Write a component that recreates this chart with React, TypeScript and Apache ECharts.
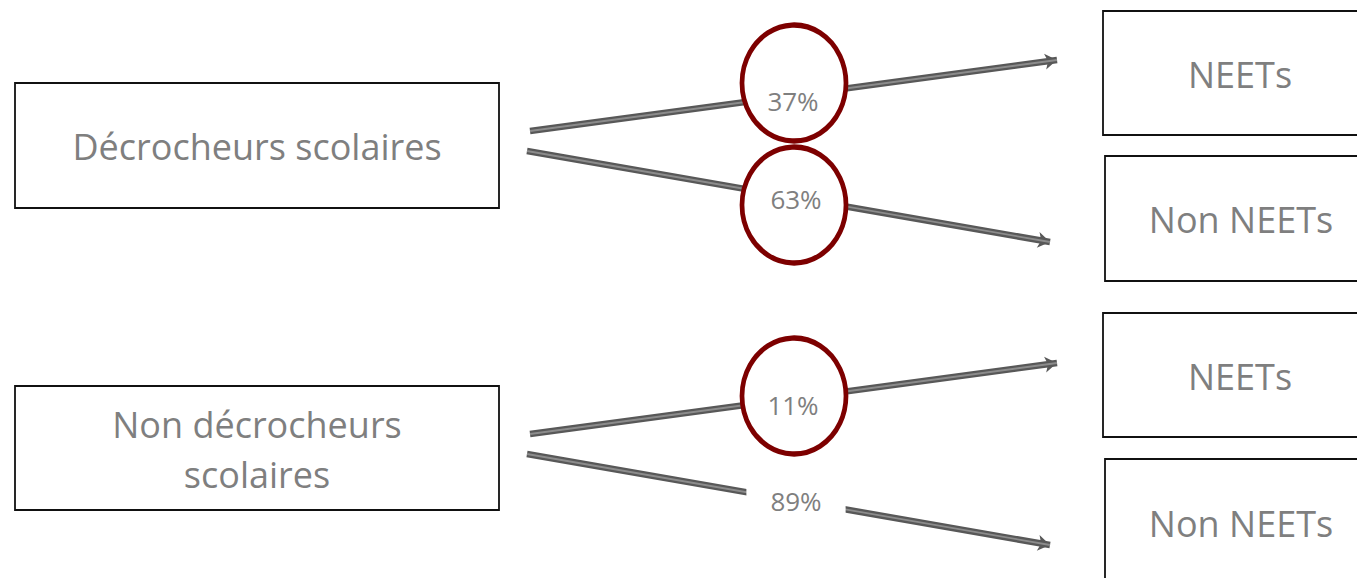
import React, { useEffect, useRef } from "react";
import * as echarts from "echarts";

// ---- data ----
const sources = ["Décrocheurs scolaires", "Non décrocheurs\nscolaires"];
const targets = ["NEETs", "Non NEETs"];
const sharesFromDropouts = [37, 63]; // % -> NEETs, Non NEETs
const sharesFromNonDropouts = [11, 89];
const circledFromDropouts = [true, true];
const circledFromNonDropouts = [true, false];

// ---- layout (pixel space of the 1357x578 canvas) ----
const W = 1357;
const H = 578;
const sourceBoxes = [
  [15, 83, 499, 208],
  [15, 386, 499, 510],
];
const targetBoxes = [
  [1103, 11, 1377, 135],
  [1105, 156, 1377, 281],
  [1103, 313, 1377, 437],
  [1105, 459, 1377, 586],
];
const arrowStarts = [
  [530, 131],
  [527, 151],
  [530, 434],
  [527, 454],
];
const arrowEnds = [
  [1057, 60],
  [1050, 242],
  [1057, 363],
  [1050, 545],
];
const ellipseCenters = [
  [794, 83],
  [794, 205],
  [794, 396],
  [794, 500],
];
const labelPos = [
  [793, 101],
  [796, 199],
  [793, 405],
  [796, 501],
];

const TEXT_GRAY = "#7f7f7f";
const FONT = "'Open Sans', sans-serif";

export default function App() {
  const ref = useRef<HTMLDivElement>(null);

  useEffect(() => {
    document.body.style.margin = "0";
    document.body.style.overflow = "hidden";
    if (!ref.current) return;
    const chart = echarts.init(ref.current, undefined, { renderer: "svg" });

    const boxLabels = [...sources, ...targets, ...targets];
    const boxes = [...sourceBoxes, ...targetBoxes];
    const shares = [...sharesFromDropouts, ...sharesFromNonDropouts];
    const circled = [...circledFromDropouts, ...circledFromNonDropouts];

    const linesData = arrowStarts.map((s, i) => ({ coords: [s, arrowEnds[i]] }));

    const option: any = {
      animation: false,
      backgroundColor: "#ffffff",
      grid: { left: 0, right: 0, top: 0, bottom: 0 },
      xAxis: { type: "value", min: 0, max: W, show: false },
      yAxis: { type: "value", min: 0, max: H, inverse: true, show: false },
      series: [
        {
          type: "custom",
          name: "boxes",
          coordinateSystem: "cartesian2d",
          clip: false,
          data: boxes,
          renderItem: (params: any, api: any) => {
            const p0 = api.coord([api.value(0), api.value(1)]);
            const p1 = api.coord([api.value(2), api.value(3)]);
            return {
              type: "group",
              children: [
                {
                  type: "rect",
                  shape: { x: p0[0], y: p0[1], width: p1[0] - p0[0], height: p1[1] - p0[1] },
                  style: { fill: "#ffffff", stroke: "#111111", lineWidth: 1.8 },
                },
                {
                  type: "text",
                  x: (p0[0] + p1[0]) / 2,
                  y: (p0[1] + p1[1]) / 2 + 1,
                  style: {
                    text: boxLabels[params.dataIndex],
                    fill: TEXT_GRAY,
                    fontSize: 36,
                    fontFamily: FONT,
                    lineHeight: 50,
                    align: "center",
                    verticalAlign: "middle",
                  },
                },
              ],
            };
          },
          z: 1,
        },
        {
          type: "lines",
          name: "arrows",
          coordinateSystem: "cartesian2d",
          data: linesData,
          symbol: ["none", "arrow"],
          symbolSize: [13, 12],
          lineStyle: { color: "#585858", width: 6.5, opacity: 1 },
          z: 2,
        },
        {
          type: "lines",
          name: "arrowsHighlight",
          coordinateSystem: "cartesian2d",
          data: linesData,
          symbol: ["none", "none"],
          lineStyle: { color: "#8c8c8c", width: 1.8, opacity: 1 },
          z: 3,
        },
        {
          type: "scatter",
          name: "circles",
          data: ellipseCenters
            .map((c, i) => ({ value: c, share: shares[i] }))
            .filter((_, i) => circled[i]),
          symbol: "circle",
          symbolSize: [104, 116],
          itemStyle: { color: "#ffffff", borderColor: "#7d0000", borderWidth: 5, opacity: 1 },
          emphasis: { disabled: true },
          z: 4,
        },
        {
          type: "scatter",
          name: "shares",
          data: labelPos.map((p, i) => ({
            value: p,
            share: shares[i],
            label: circled[i]
              ? { backgroundColor: "transparent", padding: 0 }
              : { backgroundColor: "#ffffff", padding: [8, 24] },
          })),
          symbolSize: 0,
          itemStyle: { opacity: 1 },
          label: {
            show: true,
            position: "inside",
            formatter: (p: any) => `${p.data.share}%`,
            color: TEXT_GRAY,
            opacity: 1,
            fontFamily: FONT,
            fontSize: 26,
          },
          emphasis: { disabled: true },
          z: 5,
        },
      ],
    };

    chart.setOption(option);
    return () => chart.dispose();
  }, []);

  return <div ref={ref} style={{ width: W, height: H }} />;
}
